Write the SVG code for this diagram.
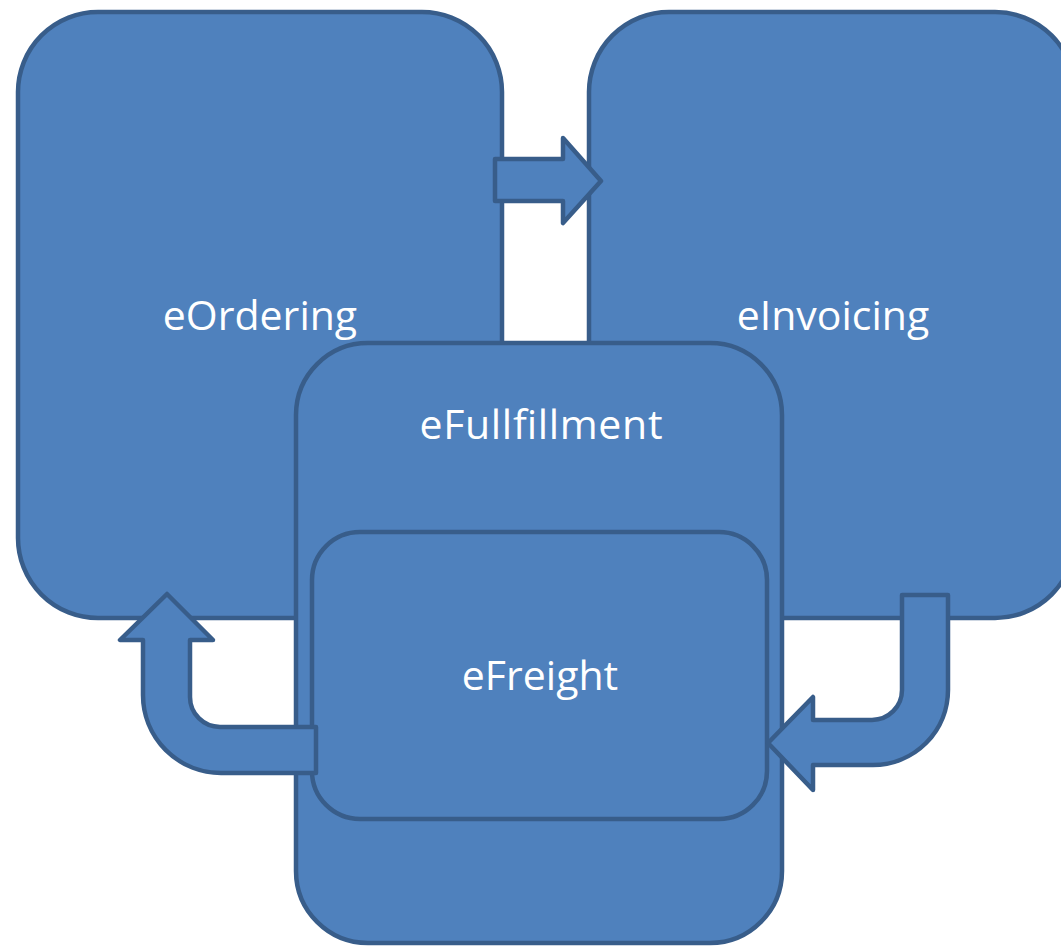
<svg xmlns="http://www.w3.org/2000/svg" width="1061" height="948" viewBox="0 0 1061 948">
<style>
.box{fill:#4f81bd;stroke:#385d8a;stroke-width:4.5}
.arr{fill:#4f81bd;stroke:#385d8a;stroke-width:4.5;stroke-linejoin:round}
.lbl{font-family:"Open Sans","Noto Sans",sans-serif;font-size:41px;fill:#ffffff;text-anchor:middle}
</style>
<rect width="1061" height="948" fill="#ffffff"/>
<g id="eOrdering">
<rect class="box" x="18" y="12" width="484" height="606" rx="80" ry="80"/>
<text class="lbl" x="260" y="330">eOrdering</text>
</g>
<g id="eInvoicing">
<rect class="box" x="589" y="12" width="486" height="606" rx="80" ry="80"/>
<text class="lbl" x="833" y="330">eInvoicing</text>
</g>
<g id="eFullfillment">
<rect class="box" x="296" y="343" width="486" height="600" rx="72" ry="72"/>
<text class="lbl" x="541" y="439" textLength="243" lengthAdjust="spacing">eFullfillment</text>
</g>
<g id="eFreight">
<rect class="box" x="312" y="532" width="455" height="287" rx="48" ry="48"/>
<text class="lbl" x="540" y="690">eFreight</text>
</g>
<g id="connectors">
<path class="arr" d="M495,159 L563,159 L563,138 L601,181 L563,223 L563,201 L495,201 Z"/>
<path class="arr" d="M902,595 L948,595 L948,690 A75,75 0 0 1 873,765 L813,765 L813,790 L768,743 L813,697 L813,720 L872,720 A30,30 0 0 0 902,690 Z"/>
<path class="arr" d="M316,727 L220,727 A30,30 0 0 1 190,697 L190,640 L213,640 L167,594 L120,640 L143,640 L143,695 A78,78 0 0 0 221,773 L316,773 Z"/>
</g>
</svg>
